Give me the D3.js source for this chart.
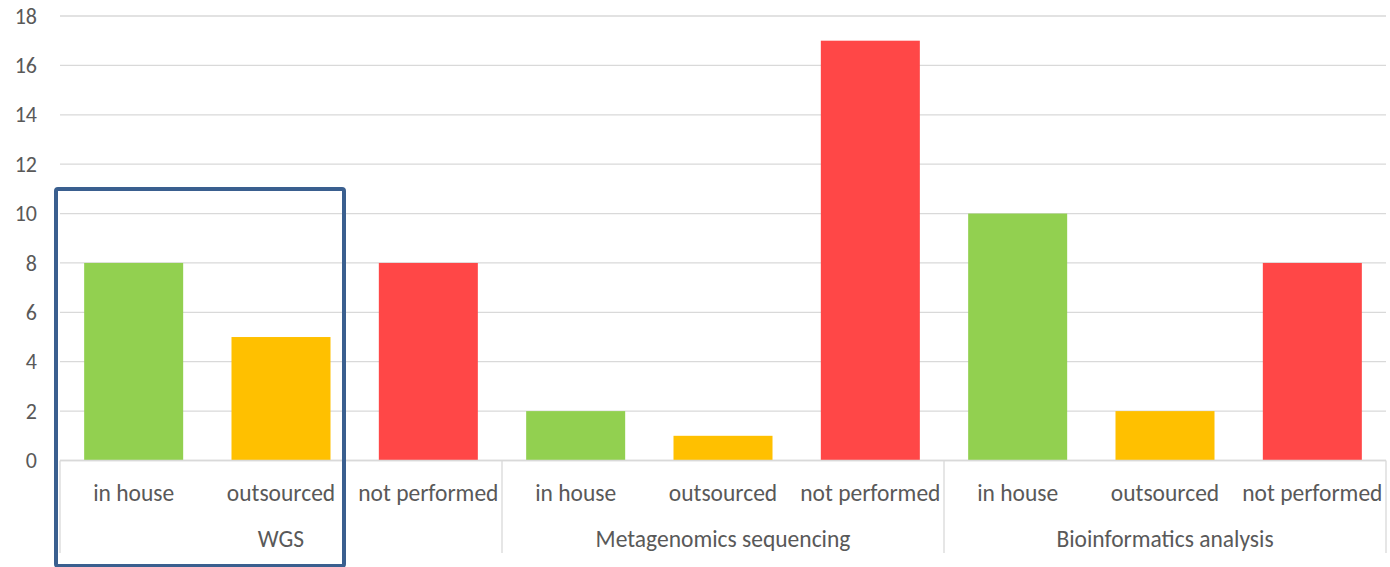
<!DOCTYPE html>
<html><head><meta charset="utf-8">
<script src="https://cdn.jsdelivr.net/npm/d3@7"></script>
<style>body{margin:0;background:#fff}svg{display:block}text{font-family:Carlito,Lato,"Open Sans","Liberation Sans",sans-serif;fill:#595959}</style>
</head><body><svg id="c" width="1390" height="567"></svg>
<script>
const groups = ["WGS", "Metagenomics sequencing", "Bioinformatics analysis"];
const subcats = ["in house", "outsourced", "not performed"];
const values = [8, 5, 8, 2, 1, 17, 10, 2, 8];
const colors = ["#92D050", "#FFC000", "#FF4747"];
const yTicks = [0, 2, 4, 6, 8, 10, 12, 14, 16, 18];

const svg = d3.select("#c");
const L = 60, R = 1386, T = 16, B = 460.5;
const keys = values.map((v, i) => i);
const x = d3.scaleBand().domain(keys).range([L, R]).paddingInner(0.328).paddingOuter(0.164);
const y = d3.scaleLinear().domain([0, 18]).range([B, T]);

// gridlines
svg.append("g").selectAll("line").data(yTicks).join("line")
  .attr("x1", L).attr("x2", R).attr("y1", d => y(d)).attr("y2", d => y(d))
  .attr("stroke", "#d9d9d9").attr("stroke-width", 1.3);

// y labels
svg.append("g").selectAll("text").data(yTicks).join("text")
  .attr("x", 37).attr("y", d => y(d)).attr("dy", "0.35em").attr("text-anchor", "end")
  .attr("font-size", 22).text(d => d);

// bars
svg.append("g").selectAll("rect").data(values).join("rect")
  .attr("x", (d, i) => x(i)).attr("width", x.bandwidth())
  .attr("y", d => y(d)).attr("height", d => y(0) - y(d))
  .attr("fill", (d, i) => colors[i % 3]);

// category axis
const gw = (R - L) / groups.length;
const ax = svg.append("g");
ax.append("line").attr("x1", L).attr("x2", R).attr("y1", B).attr("y2", B).attr("stroke", "#d9d9d9").attr("stroke-width", 1.3);
d3.range(groups.length + 1).forEach(i => {
  ax.append("line").attr("x1", L + i * gw).attr("x2", L + i * gw).attr("y1", B).attr("y2", 553)
    .attr("stroke", "#d9d9d9").attr("stroke-width", 1.3);
});
ax.selectAll("text.sub").data(values).join("text").attr("class", "sub")
  .attr("x", (d, i) => x(i) + x.bandwidth() / 2).attr("y", 493).attr("dy", "0.35em")
  .attr("text-anchor", "middle").attr("font-size", 23.5).text((d, i) => subcats[i % 3]);
ax.selectAll("text.grp").data(groups).join("text").attr("class", "grp")
  .attr("x", (d, i) => L + (i + 0.5) * gw).attr("y", 539).attr("dy", "0.35em")
  .attr("text-anchor", "middle").attr("font-size", 23.5).text(d => d);

// highlight box
svg.append("rect").attr("x", 56).attr("y", 189).attr("width", 288).attr("height", 377)
  .attr("rx", 2).attr("fill", "none").attr("stroke", "#3A5F8F").attr("stroke-width", 4);
</script></body></html>
